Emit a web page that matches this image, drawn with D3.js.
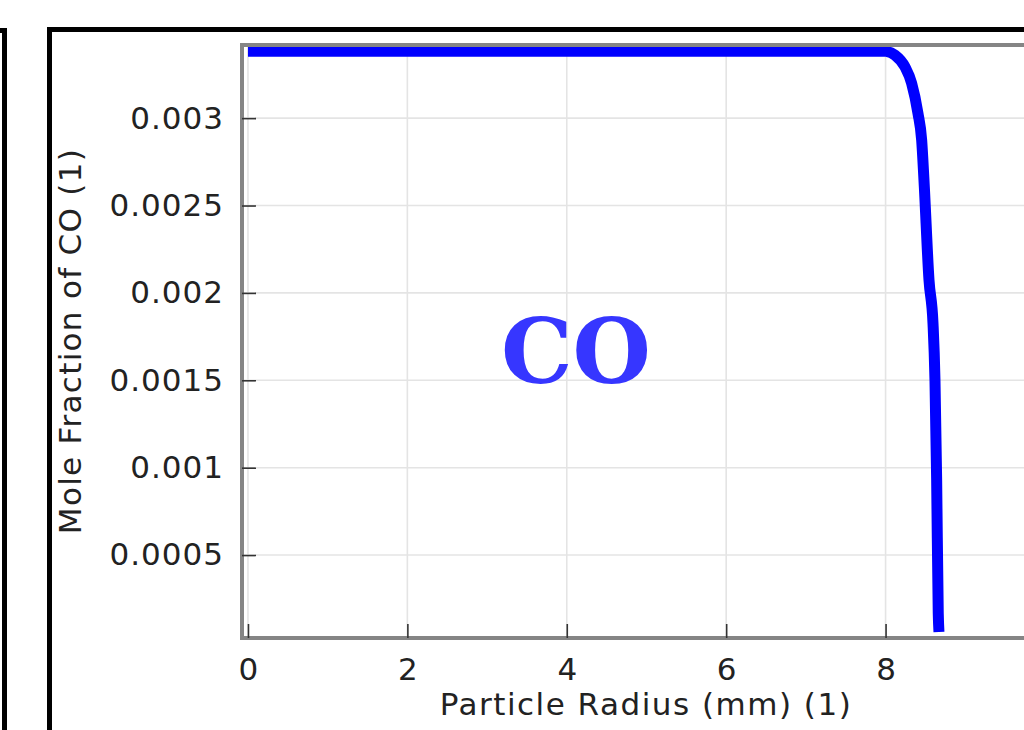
<!DOCTYPE html>
<html>
<head>
<meta charset="utf-8">
<script src="https://cdn.jsdelivr.net/npm/d3@7"></script>
<style>
  html, body { margin: 0; padding: 0; background: #fff; overflow: hidden; }
  svg { display: block; }
</style>
</head>
<body>
<svg id="chart" width="1024" height="730"></svg>
<script>
// ---- data ----
const radius = [0, 8.0, 8.014, 8.118, 8.243, 8.327, 8.406, 8.453, 8.482, 8.545, 8.595, 8.620, 8.641, 8.661, 8.670];
const moleFractionCO = [0.003383, 0.003383, 0.003382, 0.003361, 0.003294, 0.003200, 0.003029, 0.002874, 0.002645, 0.002073, 0.001827, 0.001501, 0.000929, 0.000168, 0.00006];
const xTicks = [0, 2, 4, 6, 8];
const yTicks = [0.0005, 0.001, 0.0015, 0.002, 0.0025, 0.003];
const yTickLabels = ["0.0005", "0.001", "0.0015", "0.002", "0.0025", "0.003"];
const xTitle = "Particle Radius (mm) (1)";
const yTitle = "Mole Fraction of CO (1)";
const speciesLabel = "CO";

// ---- layout ----
const svg = d3.select("#chart");
const plot = { left: 242, top: 45, right: 1110, bottom: 638 };

const x = d3.scaleLinear().domain([-0.075, 10.816]).range([plot.left, plot.right]);
const y = d3.scaleLinear().domain([0.0000255, 0.0034185]).range([plot.bottom, plot.top]);

// outer panel frames (cropped)
svg.append("rect").attr("x", -40).attr("y", 30.5).attr("width", 44.5).attr("height", 800)
  .attr("fill", "none").attr("stroke", "#000").attr("stroke-width", 5);
svg.append("rect").attr("x", 49.5).attr("y", 29.5).attr("width", 1100).attr("height", 800)
  .attr("fill", "none").attr("stroke", "#000").attr("stroke-width", 5);

svg.append("defs").append("clipPath").attr("id", "clip")
  .append("rect").attr("x", plot.left).attr("y", plot.top)
  .attr("width", plot.right - plot.left).attr("height", plot.bottom - plot.top);

// gridlines
const grid = svg.append("g");
grid.selectAll("line.gx").data(xTicks).join("line")
  .attr("x1", d => x(d)).attr("x2", d => x(d))
  .attr("y1", plot.top).attr("y2", plot.bottom)
  .attr("stroke", "#e4e4e4").attr("stroke-width", 1.6);
grid.selectAll("line.gy").data(yTicks).join("line")
  .attr("y1", d => y(d)).attr("y2", d => y(d))
  .attr("x1", plot.left).attr("x2", plot.right)
  .attr("stroke", "#e4e4e4").attr("stroke-width", 1.6);

// species label
svg.append("text")
  .attr("x", 576).attr("y", 383)
  .attr("text-anchor", "middle")
  .attr("font-family", "DejaVu Serif")
  .attr("font-weight", "bold")
  .attr("font-size", 90)
  .attr("fill", "#3636ff")
  .text(speciesLabel);

// curve
const line = d3.line().x((d, i) => x(radius[i])).y(d => y(d)).curve(d3.curveMonotoneX);
svg.append("path")
  .datum(moleFractionCO)
  .attr("clip-path", "url(#clip)")
  .attr("d", line)
  .attr("fill", "none")
  .attr("stroke", "#0000ff")
  .attr("stroke-width", 11)
  .attr("stroke-linejoin", "round")
  .attr("stroke-linecap", "butt");

// frame
svg.append("rect")
  .attr("x", plot.left).attr("y", plot.top)
  .attr("width", plot.right - plot.left).attr("height", plot.bottom - plot.top)
  .attr("fill", "none").attr("stroke", "#858585").attr("stroke-width", 4);

// axes
const fontFam = "DejaVu Sans";
const yAxis = d3.axisLeft(y).tickValues(yTicks).tickFormat((d, i) => yTickLabels[i])
  .tickSize(-14).tickPadding(18);
const gy = svg.append("g").attr("transform", `translate(${plot.left},0)`).call(yAxis);
gy.select(".domain").remove();
gy.selectAll(".tick line").attr("stroke", "#333").attr("stroke-width", 1.6);
gy.selectAll(".tick text").attr("font-family", fontFam).attr("font-size", 31)
  .attr("letter-spacing", 1).attr("fill", "#222");

const xAxis = d3.axisBottom(x).tickValues(xTicks).tickFormat(d3.format("d"))
  .tickSize(-14).tickPadding(20);
const gx = svg.append("g").attr("transform", `translate(0,${plot.bottom})`).call(xAxis);
gx.select(".domain").remove();
gx.selectAll(".tick line").attr("stroke", "#333").attr("stroke-width", 1.6);
gx.selectAll(".tick text").attr("font-family", fontFam).attr("font-size", 31)
  .attr("fill", "#222");

// titles
svg.append("text")
  .attr("x", 646).attr("y", 715)
  .attr("text-anchor", "middle")
  .attr("font-family", fontFam).attr("font-size", 31).attr("letter-spacing", 1.5)
  .attr("fill", "#222")
  .text(xTitle);

svg.append("text")
  .attr("transform", "translate(81,341) rotate(-90)")
  .attr("text-anchor", "middle")
  .attr("font-family", fontFam).attr("font-size", 31).attr("letter-spacing", 1.3)
  .attr("fill", "#222")
  .text(yTitle);
</script>
</body>
</html>
